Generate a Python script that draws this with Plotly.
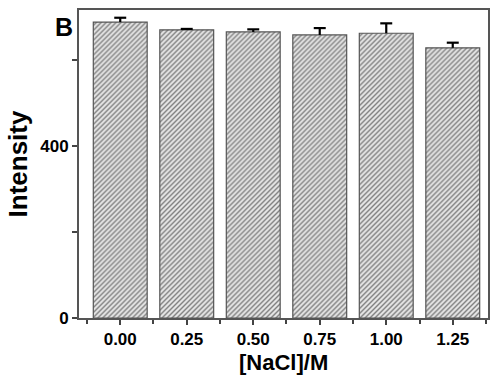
import plotly.graph_objects as go

categories = ["0.00", "0.25", "0.50", "0.75", "1.00", "1.25"]
intensity = [688, 670, 665, 658, 662, 628]
error_up = [10, 2, 6, 16, 23, 12]

x_pos = list(range(len(categories)))

fig = go.Figure()
fig.add_trace(go.Bar(
    x=x_pos, y=intensity, width=0.81,
    marker=dict(
        color="#e4e4e4",
        line=dict(color="#555555", width=1.2),
        pattern=dict(shape="/", size=3.5, solidity=0.4, fgcolor="#808080", bgcolor="#e6e6e6", fillmode="replace"),
    ),
))

# upper-only error bars built from the data
cap = 0.09
ex, ey = [], []
for xi, v, e in zip(x_pos, intensity, error_up):
    ex += [xi, xi, None, xi - cap, xi + cap, None]
    ey += [v, v + e, None, v + e, v + e, None]
fig.add_trace(go.Scatter(x=ex, y=ey, mode="lines", line=dict(color="#000000", width=2.2),
                         hoverinfo="skip"))

font_family = "Liberation Sans, Arial, sans-serif"
fig.update_layout(
    width=491, height=375,
    margin=dict(l=79, r=3, t=10, b=57),
    plot_bgcolor="white", paper_bgcolor="white",
    showlegend=False,
    font=dict(family=font_family, color="#000000"),
)
fig.update_xaxes(
    automargin=False,
    range=[-0.62, 5.53],
    tickvals=x_pos, ticktext=["<b>%s</b>" % c for c in categories],
    tickfont=dict(size=17, family=font_family, color="#000"),
    ticks="outside", ticklen=5, tickwidth=1.5, tickcolor="#444",
    minor=dict(tick0=0.5, dtick=1, ticks="outside", ticklen=4, tickwidth=1.5, tickcolor="#444"),
    showline=True, linecolor="#555555", linewidth=1.5, mirror=True,
    showgrid=False, zeroline=False,
)
fig.update_yaxes(
    automargin=False,
    range=[0, 716],
    tickvals=[0, 400], ticktext=["<b>0</b>", "<b>400</b>"],
    tickfont=dict(size=17, family=font_family, color="#000"),
    ticks="outside", ticklen=5, tickwidth=1.5, tickcolor="#444",
    minor=dict(tick0=0, dtick=200, ticks="outside", ticklen=5, tickwidth=1.5, tickcolor="#444"),
    showline=True, linecolor="#555555", linewidth=2, mirror=True,
    showgrid=False, zeroline=False,
    title=dict(text="<b>Intensity</b>", font=dict(size=26, family=font_family, color="#000"), standoff=5),
)
fig.add_annotation(
    text="<b>[NaCl]/M</b>", xref="paper", yref="paper", x=0.5, y=-0.143,
    xanchor="center", yanchor="middle", showarrow=False, borderpad=0,
    font=dict(size=22, family=font_family, color="#000"),
)
fig.add_annotation(
    text="<b>B</b>", xref="paper", yref="paper", x=-0.064, y=0.997,
    xanchor="left", yanchor="top", showarrow=False,
    font=dict(size=25, family=font_family, color="#000"),
)
fig.write_html("out.html")
